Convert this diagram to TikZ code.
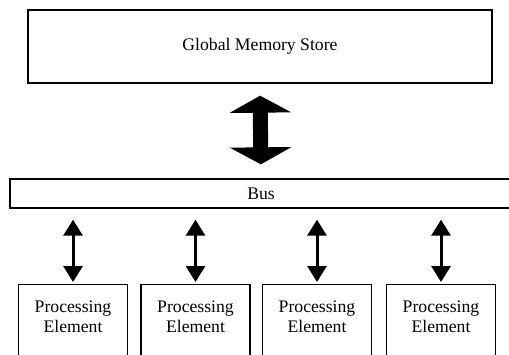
\documentclass[tikz,border=0pt]{standalone}
\usepackage{fontspec}
\setmainfont{Liberation Serif}
\usepackage{tikz}
\usetikzlibrary{positioning,arrows.meta,calc}

\begin{document}
\begin{tikzpicture}[x=0.75pt,y=-0.75pt,
        font=\fontsize{13.25}{15}\selectfont,
        box/.style={draw, line width=1pt, inner sep=0pt},
        pebox/.style={box, anchor=north, minimum width=81.75pt, align=center,
            inner ysep=12pt, text depth=60pt},
        bigarrow/.style={{Triangle[length=12.75pt,width=45.75pt]}-{Triangle[length=12.75pt,width=45.75pt]},
            line width=11.25pt},
        smallarrow/.style={{Triangle[length=12pt,width=14.25pt]}-{Triangle[length=12pt,width=14.25pt]},
            line width=2.25pt}]
            \clip (0,0) rectangle (509,354);
            % memory
            \node[box, minimum width=348pt, minimum height=54.75pt] (gms) at (260,46.5) {Global Memory Store};
            % bus
            \node[box, minimum width=376.5pt, minimum height=21.75pt] (bus) at (261,193.5) {Bus};
            \draw[bigarrow, shorten <=9pt, shorten >=10.5pt] (gms.south) -- (bus.north);
            % processing elements
            \node[pebox] (pe1) at (73,284) {Processing\\Element};
            \node[pebox] (pe2) at (195.5,284) {Processing\\Element};
            \node[pebox] (pe3) at (317,284) {Processing\\Element};
            \node[pebox] (pe4) at (441,284) {Processing\\Element};
            \foreach \p in {pe1,pe2,pe3,pe4}
                \draw[smallarrow, shorten <=8.25pt, shorten >=1.5pt] (\p.north |- bus.south) -- (\p.north);
        \end{tikzpicture}
\end{document}
